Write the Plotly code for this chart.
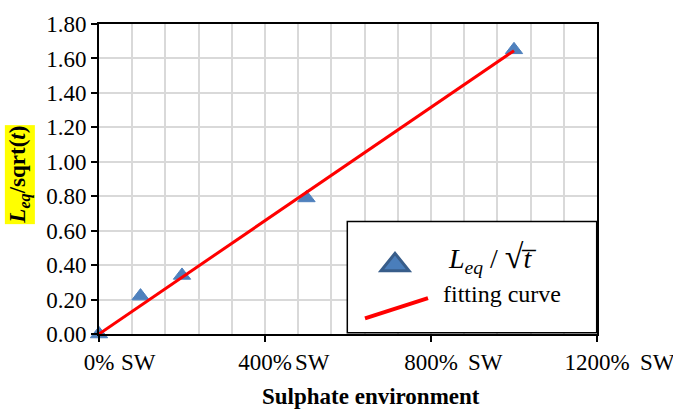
import plotly.graph_objects as go

# ---- data ----
sulphate_pct = [0, 100, 200, 500, 1000]
leq_sqrt_t = [0.0, 0.22, 0.34, 0.79, 1.65]
fit_x = [0, 1000]
fit_y = [0.0, 1.645]
x_tick_vals = [0, 400, 800, 1200]
x_tick_text = ["0%", "400%", "800%", "1200%"]
sw_text = "SW"
y_tick_vals = [0.0, 0.2, 0.4, 0.6, 0.8, 1.0, 1.2, 1.4, 1.6, 1.8]

FONT = "Liberation Serif"
W, H = 673, 411
L, R, T, B = 99, 76, 15, 77
PW, PH = W - L - R, H - T - B


def px(xp):
    return (xp - L) / PW


def py(yp):
    return (H - B - yp) / PH


fig = go.Figure()
fig.add_trace(go.Scatter(
    x=sulphate_pct, y=leq_sqrt_t, mode="markers",
    marker=dict(symbol="triangle-up", size=15, color="#4F81BD",
                line=dict(color="#4F81BD", width=1)),
    cliponaxis=False, showlegend=False,
))
fig.add_trace(go.Scatter(
    x=fit_x, y=fit_y, mode="lines",
    line=dict(color="#FF0000", width=3),
    cliponaxis=False, showlegend=False,
))

fig.update_layout(
    xaxis=dict(
        range=[0, 1200], tickmode="array", tickvals=x_tick_vals, ticktext=x_tick_text,
        showgrid=True, gridcolor="#D9D9D9", gridwidth=1.5,
        minor=dict(dtick=80, showgrid=True, gridcolor="#D9D9D9", gridwidth=1.5),
        showline=True, linecolor="black", linewidth=2, mirror=True,
        ticks="outside", ticklen=6, tickwidth=2, tickcolor="black",
        tickfont=dict(family=FONT, size=23, color="black"),
        zeroline=False, fixedrange=True,
    ),
    yaxis=dict(
        range=[0, 1.8], tickmode="array", tickvals=y_tick_vals, tickformat=".2f",
        ticksuffix="\u2009\u2009",
        showgrid=True, gridcolor="#D9D9D9", gridwidth=1.5,
        showline=True, linecolor="black", linewidth=2, mirror=True,
        ticks="outside", ticklen=6, tickwidth=2, tickcolor="black",
        tickfont=dict(family=FONT, size=23, color="black"),
        zeroline=False, fixedrange=True,
    ),
)

annotations = []
# "SW" suffixes after the percent tick labels
sw_shift = [20, 28, 35, 41]
for xv, sh in zip(x_tick_vals, sw_shift):
    annotations.append(dict(
        x=xv, xref="x", y=py(363), yref="paper", text=sw_text, showarrow=False,
        xanchor="left", yanchor="middle", xshift=sh,
        font=dict(family=FONT, size=23, color="black"),
    ))
# axis titles
annotations.append(dict(
    x=px(370.5), y=py(398), xref="paper", yref="paper", showarrow=False,
    text="<b>Sulphate environment</b>", xanchor="center", yanchor="middle",
    font=dict(family=FONT, size=23, color="black"),
))
annotations.append(dict(
    x=px(20), y=py(170), xref="paper", yref="paper", showarrow=False,
    text="<b><i>L</i><sub><i>eq</i></sub>/sqrt(<i>t</i>)</b>", textangle=-90,
    xanchor="center", yanchor="middle", bgcolor="#FFFF00", borderpad=0,
    font=dict(family=FONT, size=23, color="black"),
))
# legend texts
annotations.append(dict(
    x=px(446), y=py(256), xref="paper", yref="paper", showarrow=False,
    text="<i>L</i><sub><i>eq</i></sub> / <span style='font-size:34px'>\u221a</span><i>t\u0305</i>",
    xanchor="left", yanchor="middle",
    font=dict(family=FONT, size=28, color="black"),
))
annotations.append(dict(
    x=px(441), y=py(293), xref="paper", yref="paper", showarrow=False,
    text="fitting curve", xanchor="left", yanchor="middle",
    font=dict(family=FONT, size=24, color="black"),
))

shapes = [
    # legend box
    dict(type="rect", xref="paper", yref="paper", x0=px(347.3), x1=px(596.7),
         y0=py(332.7), y1=py(218.3), fillcolor="white",
         line=dict(color="black", width=1.5), layer="above"),
    # legend triangle
    dict(type="path", xref="paper", yref="paper",
         path=f"M {px(381)},{py(269)} L {px(409)},{py(269)} L {px(395)},{py(251)} Z",
         fillcolor="#4A7EBB", line=dict(color="#385D8A", width=3), layer="above"),
    # legend line
    dict(type="line", xref="paper", yref="paper", x0=px(365), y0=py(318),
         x1=px(428), y1=py(297), line=dict(color="#FF0000", width=4), layer="above"),
]

fig.update_layout(
    width=W, height=H, margin=dict(l=L, r=R, t=T, b=B),
    paper_bgcolor="white", plot_bgcolor="white",
    showlegend=False, annotations=annotations, shapes=shapes,
    font=dict(family=FONT, color="black"),
)

fig.write_html("out.html", config={"displayModeBar": False})
